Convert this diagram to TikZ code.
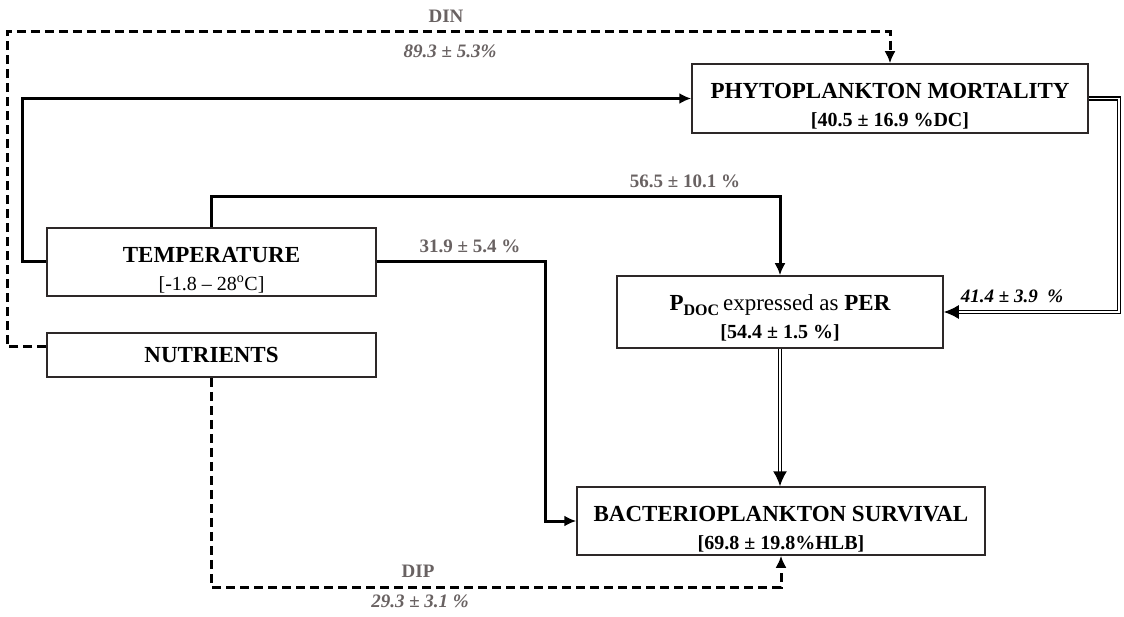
\documentclass[tikz,border=0pt]{standalone}
\usepackage{fontspec}
\setmainfont{Liberation Serif}
\usetikzlibrary{arrows.meta}
\definecolor{lblgray}{RGB}{105,98,98}
\definecolor{boxgray}{RGB}{45,40,40}
\newcommand\ttlfont{\fontsize{23}{28}\selectfont\bfseries}
\newcommand\mysubfont{\fontsize{20}{28}\selectfont\bfseries}
\newcommand\myregfont{\fontsize{20}{28}\selectfont\mdseries}
\newcommand\topstrut{\rule{0pt}{31pt}}
\begin{document}
\begin{tikzpicture}[x=1pt,y=-1pt,
  box/.style={draw=boxgray,line width=1.5pt,fill=white,align=center,inner sep=0pt,font=\ttlfont},
  lbl/.style={text=lblgray,font=\fontsize{19}{22}\selectfont\bfseries,inner sep=0pt},
  lbli/.style={text=lblgray,font=\fontsize{19}{22}\selectfont\bfseries\itshape,inner sep=0pt},
  conn/.style={line width=3pt,draw=black},
  dashl/.style={line width=3pt,draw=black,dash pattern=on 9pt off 5pt},
  dbl/.style={draw=black,double=white,line width=1.6pt,double distance=1.6pt},
  arr/.style={-{Latex[length=12pt,width=11pt]}},
  dblarr/.style={-{Latex[length=15pt,width=14pt]}}]
\path[use as bounding box] (0,0) rectangle (1124,617);
\fill[white] (0,0) rectangle (1124,617);

% boxes
\node[box,minimum width=396pt,minimum height=69pt] (phyto) at (890,98.5)
  {\topstrut PHYTOPLANKTON MORTALITY\\ \mysubfont [40.5 ± 16.9 \%DC]};
\node[box,minimum width=329pt,minimum height=68pt] (temp) at (211.5,262)
  {\topstrut TEMPERATURE\\ \myregfont [-1.8 – 28\textsuperscript{o}C]};
\node[box,minimum width=329pt,minimum height=44pt] (nutr) at (211.5,355)
  {NUTRIENTS};
\node[box,minimum width=326pt,minimum height=72pt] (pdoc) at (780,312)
  {\rule{0pt}{27pt}P\raisebox{-5pt}{\fontsize{16}{16}\selectfont DOC}\,{\mdseries expressed as} PER\\ \mysubfont [54.4 ± 1.5 \%]};
\node[box,minimum width=408pt,minimum height=68pt] (bact) at (781,521)
  {\topstrut BACTERIOPLANKTON SURVIVAL\\ \mysubfont [69.8 ± 19.8\%HLB]};

% connectors
\draw[dashl,arr] ([yshift=8pt]nutr.west) -| (7,32) -| (phyto.north);
\draw[conn,arr] (temp.west) -| (22,98.5) -- (phyto.west);
\draw[conn,arr] (temp.north) |- (780,197) -- (pdoc.north);
\draw[conn,arr] (temp.east) -| (545,521) -- (bact.west);
\draw[dashl,arr] (nutr.south) |- (781,587) -- (bact.south);
\draw[dbl,dblarr] (phyto.east) -| (1119,312) -- (pdoc.east);
\draw[dbl,dblarr] (pdoc.south) -- (pdoc.south |- bact.north);

% labels
\node[lbl] (ldin) at (446,16) {DIN};
\node[lbli] (ldinv) at (450,51) {89.3 ± 5.3\%};
\node[lbl] (ltp) at (685,181) {56.5 ± 10.1 \%};
\node[lbl] (ltb) at (470,246) {31.9 ± 5.4 \%};
\node[lbli,text=black] (lpp) at (1012,296) {41.4 ± 3.9\ \ \%};
\node[lbl] (ldip) at (418,571) {DIP};
\node[lbli] (ldipv) at (420,601) {29.3 ± 3.1 \%};
\end{tikzpicture}
\end{document}
